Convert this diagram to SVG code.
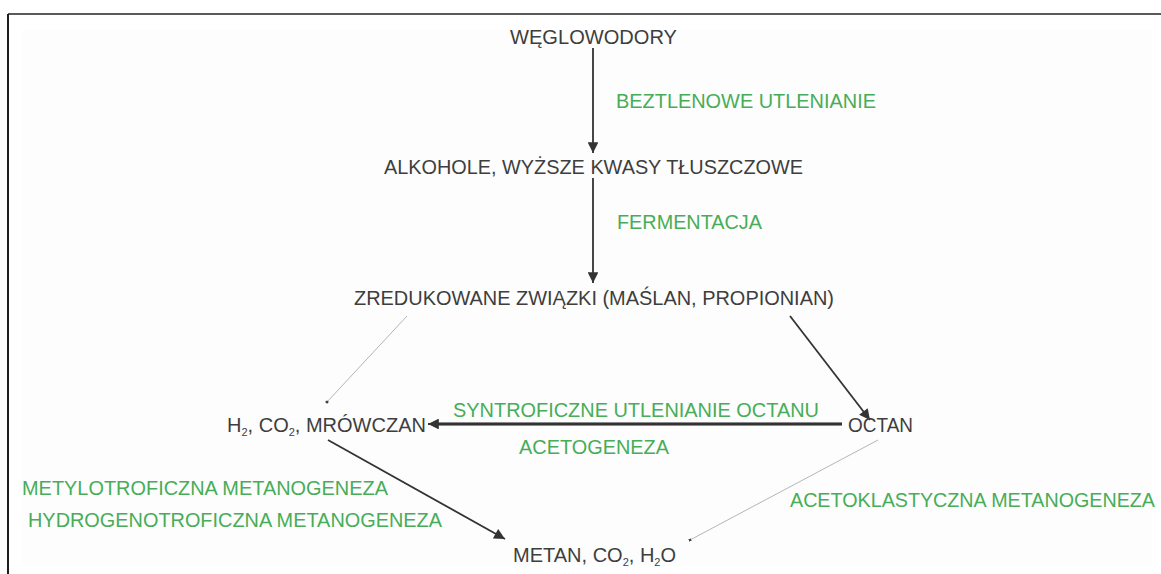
<svg xmlns="http://www.w3.org/2000/svg" width="1161" height="574" viewBox="0 0 1161 574">
  <style>
    .node { font-family: "Liberation Sans", Arial, sans-serif; font-size: 20px; fill: #3e3e3e; }
    .lbl { font-family: "Liberation Sans", Arial, sans-serif; font-size: 19.5px; fill: #47ad58; }
    .sub { font-size: 11px; }
    .dark { stroke: #333; stroke-width: 1.8; fill: none; }
    .thin { stroke: #b5b5b5; stroke-width: 1; fill: none; }
  </style>
  <defs>
    <marker id="ah" viewBox="0 0 10 10" refX="10" refY="5" markerWidth="6.5" markerHeight="6" orient="auto" markerUnits="strokeWidth">
      <path d="M0,0 L10,5 L0,10 z" fill="#333"/>
    </marker>
    <marker id="dot" viewBox="0 0 4 4" refX="2" refY="2" markerWidth="3" markerHeight="3" orient="auto">
      <circle cx="2" cy="2" r="2" fill="#444"/>
    </marker>
  </defs>
  <rect x="0" y="0" width="1161" height="574" fill="#ffffff"/>
  <rect x="22" y="30" width="1130" height="535" fill="#fdfdfd"/>
  <g id="frame">
    <line x1="8" y1="14" x2="1161" y2="14" stroke="#5a5a5a" stroke-width="2"/>
    <line x1="8" y1="14" x2="8" y2="574" stroke="#1e1e1e" stroke-width="2"/>
  </g>
  <g id="connectors">
    <line class="dark" x1="593" y1="48" x2="593" y2="153" marker-end="url(#ah)"/>
    <line class="dark" x1="593" y1="178" x2="593" y2="283" marker-end="url(#ah)"/>
    <line class="thin" x1="407" y1="316" x2="327" y2="402" marker-end="url(#dot)"/>
    <line class="dark" x1="790" y1="316" x2="870" y2="420" marker-end="url(#ah)"/>
    <line x1="842" y1="424" x2="432" y2="424" stroke="#8a8a8a" stroke-width="4"/>
    <line class="dark" x1="842" y1="424" x2="428" y2="424" marker-end="url(#ah)"/>
    <line class="dark" x1="328" y1="440" x2="505" y2="539" marker-end="url(#ah)"/>
    <line class="thin" x1="878" y1="440" x2="690" y2="540" marker-end="url(#dot)"/>
  </g>
  <g id="n-weglowodory"><text class="node" x="510" y="44" textLength="167" lengthAdjust="spacingAndGlyphs">WĘGLOWODORY</text></g>
  <g id="n-alkohole"><text class="node" x="384" y="174" textLength="419" lengthAdjust="spacingAndGlyphs">ALKOHOLE, WYŻSZE KWASY TŁUSZCZOWE</text></g>
  <g id="n-zredukowane"><text class="node" x="354" y="305" textLength="480" lengthAdjust="spacingAndGlyphs">ZREDUKOWANE ZWIĄZKI (MAŚLAN, PROPIONIAN)</text></g>
  <g id="n-h2"><text class="node" x="227" y="432">H<tspan class="sub" dy="4">2</tspan><tspan dy="-4">, CO</tspan><tspan class="sub" dy="4">2</tspan><tspan dy="-4">, MRÓWCZAN</tspan></text></g>
  <g id="n-octan"><text class="node" x="848" y="432" textLength="65" lengthAdjust="spacingAndGlyphs">OCTAN</text></g>
  <g id="n-metan"><text class="node" x="513" y="562">METAN, CO<tspan class="sub" dy="4">2</tspan><tspan dy="-4">, H</tspan><tspan class="sub" dy="4">2</tspan><tspan dy="-4">O</tspan></text></g>
  <g id="labels">
    <text class="lbl" x="616" y="108" textLength="260" lengthAdjust="spacingAndGlyphs">BEZTLENOWE UTLENIANIE</text>
    <text class="lbl" x="617" y="229" textLength="145" lengthAdjust="spacingAndGlyphs">FERMENTACJA</text>
    <text class="lbl" x="453" y="417" textLength="366" lengthAdjust="spacingAndGlyphs">SYNTROFICZNE UTLENIANIE OCTANU</text>
    <text class="lbl" x="519" y="454" textLength="150" lengthAdjust="spacingAndGlyphs">ACETOGENEZA</text>
    <text class="lbl" x="22" y="495" textLength="366" lengthAdjust="spacingAndGlyphs">METYLOTROFICZNA METANOGENEZA</text>
    <text class="lbl" x="28" y="527" textLength="414" lengthAdjust="spacingAndGlyphs">HYDROGENOTROFICZNA METANOGENEZA</text>
    <text class="lbl" x="790" y="507" textLength="365" lengthAdjust="spacingAndGlyphs">ACETOKLASTYCZNA METANOGENEZA</text>
  </g>
</svg>
